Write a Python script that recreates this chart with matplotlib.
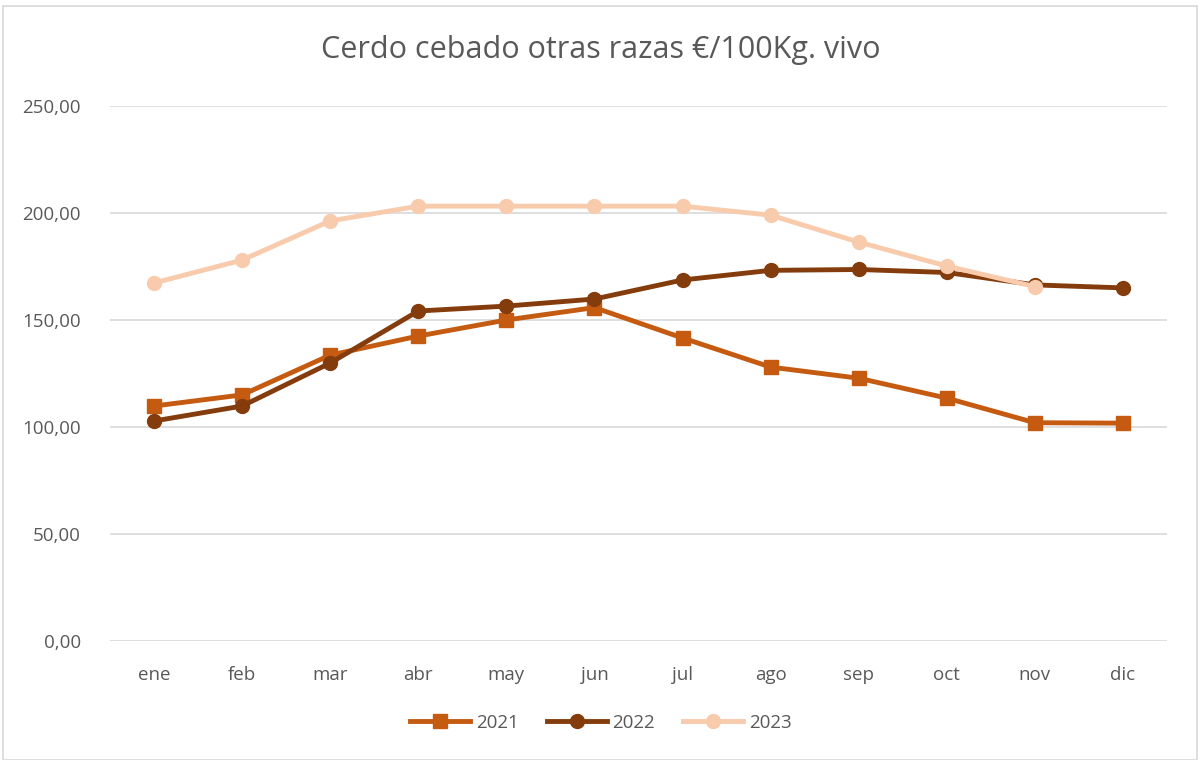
import matplotlib
matplotlib.use("Agg")
import matplotlib.pyplot as plt
from matplotlib.patches import Rectangle

months = ["ene", "feb", "mar", "abr", "may", "jun", "jul", "ago", "sep", "oct", "nov", "dic"]
v2021 = [109.8, 115.0, 133.6, 142.5, 150.0, 155.8, 141.6, 128.0, 122.8, 113.5, 102.0, 101.8]
v2022 = [102.8, 109.8, 129.9, 154.2, 156.5, 159.8, 168.7, 173.2, 173.6, 172.2, 166.4, 165.0]
v2023 = [167.3, 178.0, 196.3, 203.2, 203.2, 203.2, 203.2, 199.0, 186.4, 175.2, 165.6]
yticks = [0, 50, 100, 150, 200, 250]
ylabels = ["0,00", "50,00", "100,00", "150,00", "200,00", "250,00"]
title = "Cerdo cebado otras razas €/100Kg. vivo"

plt.rcParams['font.family'] = ['Open Sans', 'DejaVu Sans']
fig = plt.figure(figsize=(12.02, 7.6), dpi=100)
ax = fig.add_axes([110/1202, 1-641/760, (1167-110)/1202, (641-106)/760])

x = list(range(len(months)))
ax.plot(x, v2021, color="#C55A11", lw=3.5, marker="s", ms=10, label="2021", zorder=3)
ax.plot(x, v2022, color="#843C0C", lw=3.5, marker="o", ms=10, label="2022", zorder=4)
ax.plot(x[:len(v2023)], v2023, color="#F8CBAD", lw=3.5, marker="o", ms=10, label="2023", zorder=5)

ax.set_xlim(-0.5, 11.5)
ax.set_ylim(0, 250)
ax.set_yticks(yticks)
ax.set_yticklabels(ylabels)
ax.set_xticks(x)
ax.set_xticklabels(months)
ax.tick_params(axis='both', length=0, labelsize=13.5, colors="#595959")
ax.tick_params(axis='x', pad=18)
ax.tick_params(axis='y', pad=21)
ax.grid(axis='y', color="#D9D9D9", lw=1.2)
ax.set_axisbelow(True)
for s in ax.spines.values():
    s.set_visible(False)

fig.text(0.5, 1-50/760, title, ha="center", va="center", fontsize=22, color="#595959")
leg = fig.legend(loc="center", bbox_to_anchor=(0.5, 1-723/760), ncol=3, frameon=False,
                 fontsize=13.5, handlelength=3.2, columnspacing=1.5, handletextpad=0.3)
for t in leg.get_texts():
    t.set_color("#595959")

fig.patches.append(Rectangle((3/1202, 0), 1194/1202, 1-6/760, transform=fig.transFigure,
                             fill=False, edgecolor="#D9D9D9", lw=1.2))
fig.savefig("out.png", dpi=100)
